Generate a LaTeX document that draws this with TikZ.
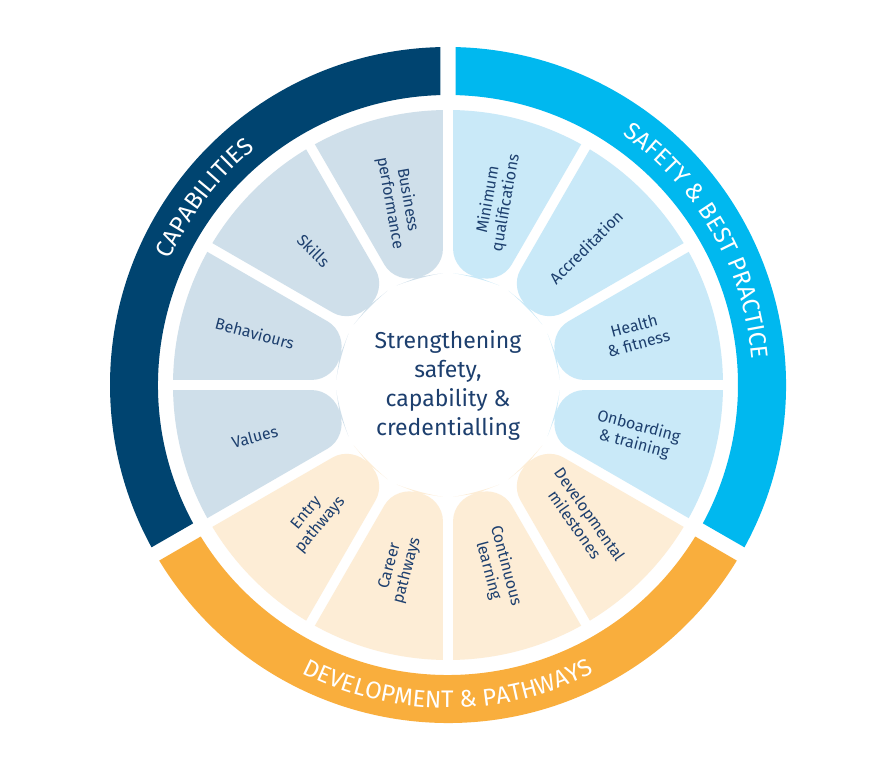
\documentclass[tikz,border=0pt]{standalone}
\usepackage{fontspec}
\setmainfont{Fira Sans}
\usetikzlibrary{decorations.text}
\definecolor{dkb}{HTML}{004470}
\definecolor{cyb}{HTML}{00B8EF}
\definecolor{orb}{HTML}{F9AE3D}
\definecolor{lcap}{HTML}{CFDFEA}
\definecolor{lsaf}{HTML}{C9E9F8}
\definecolor{ldev}{HTML}{FDEDD6}
\definecolor{txt}{HTML}{1D3F6E}
\tikzset{lbl/.style={text=txt,font=\fontsize{16}{18}\selectfont,align=center}}
\newcommand{\petal}[2]{%
 \begin{scope}
 \clip (448,379) circle (275);
 \fill[#2,rounded corners=24] ([shift={(448,379)}]#1+15:112) -- ([shift={(448,379)}]#1+2.6:112) -- ([shift={(448,379)}]#1+0.9:320) -- ([shift={(448,379)}]#1+29.1:320) -- ([shift={(448,379)}]#1+27.4:112) -- cycle;
 \end{scope}}
\newcommand{\ringseg}[3]{%
 \fill[#3] ([shift={(448,379)}]#1+1.3:338) arc[start angle=#1+1.3,end angle=#2-1.3,radius=338] -- ([shift={(448,379)}]#2-1.5:290) arc[start angle=#2-1.5,end angle=#1+1.5,radius=290] -- cycle;}
\begin{document}
\begin{tikzpicture}[x=1pt,y=1pt]
\useasboundingbox (0,0) rectangle (883,764);
\fill[white] (0,0) rectangle (883,764);
\coordinate (c) at (448,379);
\ringseg{90}{210}{dkb}
\ringseg{-30}{90}{cyb}
\ringseg{210}{330}{orb}
\foreach \a in {90,120,150,180}{\petal{\a}{lcap}}
\foreach \a in {-30,0,30,60}{\petal{\a}{lsaf}}
\foreach \a in {210,240,270,300}{\petal{\a}{ldev}}
% labels
\node[lbl,rotate=-80] (p1) at ([shift={(c)}]105:190) {Business\\performance};
\node[lbl,rotate=-45] (p2) at ([shift={(c)}]135:190) {Skills};
\node[lbl,rotate=-15] (p3) at ([shift={(c)}]165:200) {Behaviours};
\node[lbl,rotate=15] (p4) at ([shift={(c)}]195:200) {Values};
\node[lbl,rotate=50] (p5) at ([shift={(c)}]225:190) {Entry\\pathways};
\node[lbl,rotate=75] (p6) at ([shift={(c)}]255:190) {Career\\pathways};
\node[lbl,rotate=80] (p7) at ([shift={(c)}]75:190) {Minimum\\qualifications};
\node[lbl,rotate=45] (p8) at ([shift={(c)}]45:195) {Accreditation};
\node[lbl,rotate=15] (p9) at ([shift={(c)}]15:195) {Health\\\& fitness};
\node[lbl,rotate=-15] (p10) at ([shift={(c)}]-15:195) {Onboarding\\\& training};
\node[lbl,rotate=-55] (p11) at ([shift={(c)}]-45:190) {Developmental\\milestones};
\node[lbl,rotate=-75] (p12) at ([shift={(c)}]-75:190) {Continuous\\learning};
\node[text=txt,font=\fontsize{23}{29}\selectfont,align=center] (ctr) at (c) {Strengthening\\safety,\\capability \&\\credentialling};
% ring texts
\path[decorate,decoration={text along path,text align=center,
 text={|\color{white}\fontsize{24}{24}\selectfont|CAPABILITIES}}]
 ([shift={(c)}]185:305) arc[start angle=185,end angle=100,radius=305];
\path[decorate,decoration={text along path,text align=center,
 text={|\color{white}\fontsize{24}{24}\selectfont|SAFETY {\&} BEST PRACTICE}}]
 ([shift={(c)}]80:305) arc[start angle=80,end angle=-20,radius=305];
\path[decorate,decoration={text along path,text align=center,
 text={|\color{white}\fontsize{24}{24}\selectfont|DEVELOPMENT {\&} PATHWAYS}}]
 ([shift={(c)}]220:323) arc[start angle=220,end angle=320,radius=323];
\end{tikzpicture}
\end{document}
